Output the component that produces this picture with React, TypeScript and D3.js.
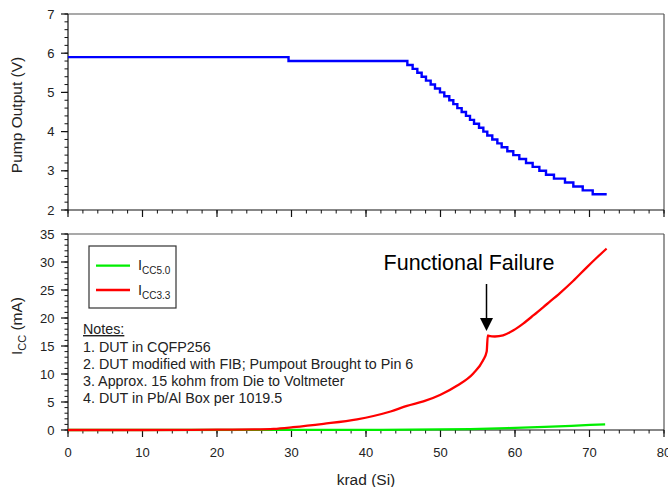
import React from "react";
import * as d3 from "d3";

const pumpDose = [0, 29.6, 45.55, 46.26, 46.89, 47.47, 48.05, 48.68, 49.26, 49.93, 50.51, 51.18, 51.72, 52.26, 52.84, 53.42, 53.96, 54.5, 55.17, 55.75, 56.28, 56.95, 57.63, 58.21, 58.97, 59.77, 60.58, 61.48, 62.37, 63.27, 64.16, 65.23, 66.71, 67.83, 69.09, 70.43, 72.31];
const pumpVolt = [5.9, 5.8, 5.7, 5.6, 5.5, 5.4, 5.3, 5.2, 5.1, 5.0, 4.9, 4.8, 4.7, 4.6, 4.5, 4.4, 4.3, 4.2, 4.1, 4.0, 3.9, 3.8, 3.7, 3.6, 3.5, 3.4, 3.3, 3.2, 3.1, 3.0, 2.9, 2.8, 2.7, 2.6, 2.5, 2.4, 2.4];

const icc33Dose = [0, 10, 20, 25, 27.6, 30.2, 34.3, 38.8, 41, 43.3, 45.5, 47.7, 50, 52.2, 54.4, 55.7, 56.2, 56.35, 56.5, 57.3, 58.4, 59.8, 61.1, 62.5, 64.3, 66, 67.8, 69.6, 71, 72.3];
const icc33 = [0, 0, 0.05, 0.1, 0.2, 0.5, 1.1, 1.9, 2.5, 3.3, 4.3, 5.1, 6.3, 7.9, 10.1, 12.4, 14.0, 16.9, 16.8, 16.7, 16.9, 17.8, 19.0, 20.5, 22.5, 24.4, 26.6, 29.0, 30.8, 32.4];

const icc50Dose = [0, 42, 54, 59, 64, 67.6, 70.1, 72.1];
const icc50 = [0, 0.02, 0.15, 0.35, 0.55, 0.75, 0.9, 1.0];

const xTicks = [0, 10, 20, 30, 40, 50, 60, 70, 80];
const pumpTicks = [2, 3, 4, 5, 6, 7];
const iccTicks = [0, 5, 10, 15, 20, 25, 30, 35];
const notes = [
  "1. DUT in CQFP256",
  "2. DUT modified with FIB; Pumpout Brought to Pin 6",
  "3. Approx. 15 kohm from Die to Voltmeter",
  "4. DUT in Pb/Al Box per 1019.5",
];

const FONT = "'Liberation Sans', Arial, sans-serif";

export default function App() {
  const x = d3.scaleLinear().domain([0, 80]).range([68, 664]);
  const yTop = d3.scaleLinear().domain([2, 7]).range([210, 14]);
  const yBot = d3.scaleLinear().domain([0, 35]).range([430, 234]);

  const pumpLine = d3
    .line<number>()
    .x((_, i) => x(pumpDose[i]))
    .y((v) => yTop(v))
    .curve(d3.curveStepAfter)(pumpVolt) as string;
  const redLine = d3
    .line<number>()
    .x((_, i) => x(icc33Dose[i]))
    .y((v) => yBot(v))
    .curve(d3.curveMonotoneX)(icc33) as string;
  const greenLine = d3
    .line<number>()
    .x((_, i) => x(icc50Dose[i]))
    .y((v) => yBot(v))(icc50) as string;

  const xMinor = d3.range(0, 80.01, 2);
  const topMinor = d3.range(2, 7.001, 0.2);
  const botMinor = d3.range(0, 35.01, 1);

  const axisColor = "#111";
  const frameColor = "#555";
  const textColor = "#222";

  const panel = (yS: d3.ScaleLinear<number, number>, ticks: number[], minor: number[], showXLabels: boolean) => {
    const [y0, y1] = yS.range();
    return (
      <g>
        <line x1={x(0)} x2={x(80)} y1={y1} y2={y1} stroke={frameColor} strokeWidth={1.2} />
        <line x1={x(80)} x2={x(80)} y1={y1} y2={y0} stroke={frameColor} strokeWidth={1.2} />
        <line x1={x(0)} x2={x(80)} y1={y0} y2={y0} stroke={axisColor} strokeWidth={1.2} />
        <line x1={x(0)} x2={x(0)} y1={y1} y2={y0} stroke={axisColor} strokeWidth={1.2} />
        {xMinor.map((t) => (
          <line key={"xm" + t} x1={x(t)} x2={x(t)} y1={y0} y2={y0 + 3.5} stroke={axisColor} strokeWidth={1} />
        ))}
        {xTicks.map((t) => (
          <line key={"xM" + t} x1={x(t)} x2={x(t)} y1={y0} y2={y0 + 7} stroke={axisColor} strokeWidth={1.2} />
        ))}
        {showXLabels &&
          xTicks.map((t) => (
            <text key={"xl" + t} x={x(t)} y={457} textAnchor="middle" fontSize={13} fill={textColor} fontFamily={FONT}>
              {t}
            </text>
          ))}
        {minor.map((t, i) => (
          <line key={"ym" + i} x1={x(0) - 3.5} x2={x(0)} y1={yS(t)} y2={yS(t)} stroke={axisColor} strokeWidth={1} />
        ))}
        {ticks.map((t) => (
          <g key={"yM" + t}>
            <line x1={x(0) - 7} x2={x(0)} y1={yS(t)} y2={yS(t)} stroke={axisColor} strokeWidth={1.2} />
            <text x={54.5} y={yS(t)} dy="0.36em" textAnchor="end" fontSize={13} fill={textColor} fontFamily={FONT}>
              {t}
            </text>
          </g>
        ))}
      </g>
    );
  };

  return (
    <svg width={668} height={487} style={{ position: "absolute", left: 0, top: 0, background: "#fff" }}>
      <rect x={0} y={0} width={668} height={487} fill="#fff" />
      {panel(yTop, pumpTicks, topMinor, false)}
      {panel(yBot, iccTicks, botMinor, true)}

      <path d={pumpLine} fill="none" stroke="#0000ff" strokeWidth={2.4} />
      <path d={greenLine} fill="none" stroke="#00ee00" strokeWidth={2.3} />
      <path d={redLine} fill="none" stroke="#ff0000" strokeWidth={2.3} />

      {/* axis titles */}
      <text transform="translate(21.5,115) rotate(-90)" textAnchor="middle" fontSize={15.5} fill={textColor} fontFamily={FONT}>
        Pump Output (V)
      </text>
      <text transform="translate(21.5,326) rotate(-90)" textAnchor="middle" fontSize={15.5} fill={textColor} fontFamily={FONT}>
        I<tspan dy={4} fontSize={11}>CC</tspan>
        <tspan dy={-4}> (mA)</tspan>
      </text>
      <text x={366} y={485} textAnchor="middle" fontSize={15.5} fill={textColor} fontFamily={FONT}>
        krad (Si)
      </text>

      {/* legend */}
      <rect x={89} y={246} width={87} height={62} fill="#fff" stroke="#333" strokeWidth={1.2} />
      <line x1={96} x2={130} y1={265.7} y2={265.7} stroke="#00ee00" strokeWidth={2.3} />
      <line x1={96} x2={130} y1={290} y2={290} stroke="#ff0000" strokeWidth={2.3} />
      <text x={138} y={270} fontSize={14.5} fill={textColor} fontFamily={FONT}>
        I<tspan dy={4} fontSize={10}>CC5.0</tspan>
      </text>
      <text x={138} y={294.5} fontSize={14.5} fill={textColor} fontFamily={FONT}>
        I<tspan dy={4} fontSize={10}>CC3.3</tspan>
      </text>

      {/* notes */}
      <text x={83} y={334} fontSize={14.3} fill={textColor} fontFamily={FONT} textDecoration="underline">
        Notes:
      </text>
      {notes.map((n, i) => (
        <text key={n} x={83} y={351.7 + i * 17} fontSize={14.3} fill={textColor} fontFamily={FONT}>
          {n}
        </text>
      ))}

      {/* annotation */}
      <text x={469} y={270} textAnchor="middle" fontSize={21.5} fill="#000" fontFamily={FONT}>
        Functional Failure
      </text>
      <line x1={486.5} x2={486.5} y1={284} y2={320} stroke="#000" strokeWidth={1.5} />
      <path d={`M${480},${318} L${493},${318} L${486.5},${331} Z`} fill="#000" />
    </svg>
  );
}
